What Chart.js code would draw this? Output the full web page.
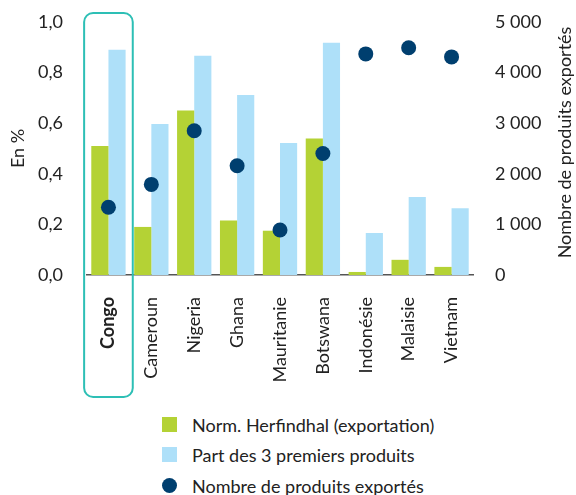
<!DOCTYPE html>
<html>
<head>
<meta charset="utf-8">
<script src="https://cdn.jsdelivr.net/npm/chart.js@4.4.1/dist/chart.umd.min.js"></script>
<style>
  html, body { margin: 0; padding: 0; background: #fff; }
  body { width: 576px; height: 495px; position: relative; overflow: hidden; font-family: Lato, "Noto Sans", sans-serif; }
  #wrap { position: absolute; left: 0; top: 0; width: 576px; height: 405px; }
  #legend { position: absolute; left: 162px; top: 410px; color: #222; font-size: 18px; }
  .item { position: absolute; left: 0; white-space: nowrap; height: 20px; line-height: 20px; }
  .mk { position: absolute; left: 0; top: 2px; width: 15px; height: 15px; }
  .txt { position: absolute; left: 30px; top: 0; }
</style>
</head>
<body>
<div id="wrap"><canvas id="c" width="576" height="405"></canvas></div>
<div id="legend"></div>
<script>
const categories = ["Congo", "Cameroun", "Nigeria", "Ghana", "Mauritanie", "Botswana", "Indonésie", "Malaisie", "Vietnam"];
const herfindahl = [0.51, 0.19, 0.65, 0.215, 0.175, 0.54, 0.012, 0.06, 0.032];
const top3Share = [0.89, 0.597, 0.867, 0.711, 0.522, 0.918, 0.166, 0.308, 0.264];
const nbProducts = [1340, 1790, 2850, 2160, 890, 2400, 4370, 4490, 4310];
const leftTicks = [0, 0.2, 0.4, 0.6, 0.8, 1.0];
const rightTicks = [0, 1000, 2000, 3000, 4000, 5000];
const seriesNames = ["Norm. Herfindhal (exportation)", "Part des 3 premiers produits", "Nombre de produits exportés"];
const colors = { green: "#B4D235", blue: "#AEE0F9", navy: "#003F6F", teal: "#2DBFB5", text: "#222222" };

const FONT = "Lato, 'Noto Sans', sans-serif";
const FS = 18;

const highlightPlugin = {
  id: "highlight",
  afterDraw(chart) {
    const ctx = chart.ctx;
    const xs = chart.scales.x;
    const ca = chart.chartArea;
    const cx = xs.getPixelForValue(0);
    const half = (xs.width / categories.length) * 0.567;
    const x0 = cx - half, x1 = cx + half;
    const y0 = ca.top - 9, y1 = ca.bottom + 122;
    const r = 9;
    ctx.save();
    ctx.strokeStyle = colors.teal;
    ctx.lineWidth = 2;
    ctx.beginPath();
    ctx.roundRect(x0, y0, x1 - x0, y1 - y0, r);
    ctx.stroke();
    // right axis title, reading bottom to top
    ctx.fillStyle = colors.text;
    ctx.font = FS + "px " + FONT;
    ctx.textAlign = "center";
    ctx.textBaseline = "middle";
    ctx.translate(565, (ca.top + ca.bottom) / 2 - 6);
    ctx.rotate(-Math.PI / 2);
    ctx.fillText(seriesNames[2], 0, 0);
    ctx.restore();
  }
};

const fmtRight = v => String(v).replace(/\B(?=(\d{3})+(?!\d))/g, " ");

new Chart(document.getElementById("c"), {
  type: "bar",
  data: {
    labels: categories,
    datasets: [
      { type: "line", label: seriesNames[2], data: nbProducts, yAxisID: "y1", showLine: false,
        pointRadius: 7.5, pointHoverRadius: 7.5, pointBackgroundColor: colors.navy, pointBorderWidth: 0,
        borderColor: colors.navy, backgroundColor: colors.navy, order: 0 },
      { label: seriesNames[0], data: herfindahl, yAxisID: "y", backgroundColor: colors.green,
        barPercentage: 1.0, categoryPercentage: 0.8, order: 1 },
      { label: seriesNames[1], data: top3Share, yAxisID: "y", backgroundColor: colors.blue,
        barPercentage: 1.0, categoryPercentage: 0.8, order: 2 }
    ]
  },
  options: {
    responsive: false,
    animation: false,
    layout: { padding: { top: 22, left: 0, right: 0, bottom: 0 } },
    plugins: { legend: { display: false }, tooltip: { enabled: false } },
    scales: {
      x: {
        grid: { display: false, drawTicks: false },
        border: { display: true, color: "#555555", width: 1.5 },
        ticks: {
          color: colors.text, padding: 22, minRotation: 90, maxRotation: 90, autoSkip: false,
          font: ctx => ({ family: FONT, size: FS, weight: ctx.index === 0 ? "bold" : "normal" })
        },
        afterFit: s => { s.height = 130; }
      },
      y: {
        position: "left", min: 0, max: 1,
        grid: { display: false, drawTicks: true, tickLength: 24 },
        border: { display: false },
        afterBuildTicks: s => { s.ticks = leftTicks.map(v => ({ value: v })); },
        ticks: { color: colors.text, padding: 0, font: { family: FONT, size: FS },
          callback: v => v.toFixed(1).replace(".", ",") },
        title: { display: true, text: "En %", color: colors.text, font: { family: FONT, size: FS }, padding: { top: 7, bottom: 0 } },
        afterFit: s => { s.width = 87; }
      },
      y1: {
        position: "right", min: 0, max: 5000,
        grid: { display: false, drawTicks: true, tickLength: 22 },
        border: { display: false },
        afterBuildTicks: s => { s.ticks = rightTicks.map(v => ({ value: v })); },
        ticks: { color: colors.text, padding: 0, font: { family: FONT, size: FS }, callback: v => fmtRight(v) },
        afterFit: s => { s.width = 103; }
      }
    }
  },
  plugins: [highlightPlugin]
});

// HTML legend
const legend = document.getElementById("legend");
const rowsTop = [5, 35, 66];
const markers = [
  { bg: colors.green, radius: "0" },
  { bg: colors.blue, radius: "0" },
  { bg: colors.navy, radius: "50%" }
];
seriesNames.forEach((name, i) => {
  const item = document.createElement("div");
  item.className = "item";
  item.style.top = rowsTop[i] + "px";
  const mk = document.createElement("div");
  mk.className = "mk";
  mk.style.background = markers[i].bg;
  mk.style.borderRadius = markers[i].radius;
  const t = document.createElement("span");
  t.className = "txt";
  t.textContent = name;
  item.appendChild(mk);
  item.appendChild(t);
  legend.appendChild(item);
});
</script>
</body>
</html>
